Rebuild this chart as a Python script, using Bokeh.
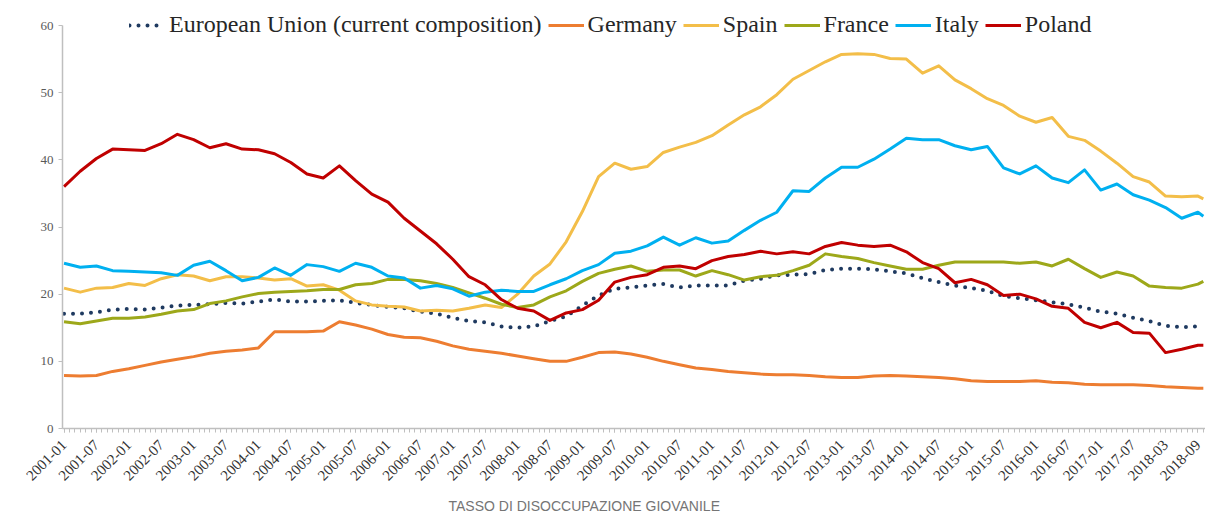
import math
from bokeh.plotting import figure
from bokeh.models import Range1d, FixedTicker, Legend, LegendItem, Title
from bokeh.embed import file_html
from bokeh.resources import INLINE

# ---- categories (monthly axis; 2018-01/02 absent in source) ----
months = []
for yr in range(2001, 2018):
    for mo in range(1, 13):
        months.append(f"{yr}-{mo:02d}")
for mo in range(3, 11):
    months.append(f"2018-{mo:02d}")

# sampled months (quarterly readings from the picture)
sample_months = [months[i] for i in range(0, 211, 3)] + ["2018-10"]

tick_positions = list(range(0, 211, 6))
tick_labels = [months[i] for i in tick_positions]

series_names = ["European Union (current composition)", "Germany", "Spain",
                "France", "Italy", "Poland"]

eu = [17.1, 17.1, 17.3, 17.7, 17.8, 17.7, 18.0, 18.3, 18.4, 18.5,
      18.7, 18.6, 18.9, 19.2, 18.9, 18.9, 19.0, 19.1, 18.7, 18.4,
      18.1, 17.9, 17.4, 17.1, 16.5, 16.0, 15.8, 15.2, 15.0, 15.2,
      16.0, 16.7, 18.3, 19.8, 20.8, 21.0, 21.3, 21.5, 21.0, 21.3,
      21.3, 21.3, 22.0, 22.3, 22.8, 22.9, 23.0, 23.6, 23.8, 23.8,
      23.7, 23.4, 23.1, 22.4, 21.8, 21.3, 20.9, 20.5, 19.7, 19.4,
      19.1, 18.8, 18.5, 18.0, 17.4, 17.1, 16.5, 16.0, 15.3, 15.1,
      15.2, 15.2]

germany = [7.9, 7.8, 7.9, 8.5, 8.9, 9.4, 9.9, 10.3, 10.7, 11.2,
           11.5, 11.7, 12.0, 14.4, 14.4, 14.4, 14.5, 15.9, 15.4, 14.8,
           14.0, 13.6, 13.5, 13.0, 12.3, 11.8, 11.5, 11.2, 10.8, 10.4,
           10.0, 10.0, 10.6, 11.3, 11.4, 11.1, 10.6, 10.0, 9.5, 9.0,
           8.8, 8.5, 8.3, 8.1, 8.0, 8.0, 7.9, 7.7, 7.6, 7.6,
           7.8, 7.9, 7.8, 7.7, 7.6, 7.4, 7.1, 7.0, 7.0, 7.0,
           7.1, 6.9, 6.8, 6.6, 6.5, 6.5, 6.5, 6.4, 6.2, 6.1,
           6.0, 6.0]

spain = [20.9, 20.3, 20.9, 21.0, 21.6, 21.3, 22.3, 22.9, 22.7, 22.0,
         22.6, 22.6, 22.4, 22.1, 22.3, 21.2, 21.4, 20.6, 19.0, 18.4,
         18.2, 18.1, 17.5, 17.6, 17.5, 17.9, 18.4, 18.0, 20.0, 22.7,
         24.5, 27.8, 32.3, 37.5, 39.5, 38.6, 39.0, 41.1, 41.9, 42.6,
         43.6, 45.2, 46.7, 47.9, 49.7, 52.0, 53.3, 54.6, 55.7, 55.8,
         55.7, 55.1, 55.0, 52.9, 54.0, 51.9, 50.6, 49.1, 48.1, 46.5,
         45.6, 46.3, 43.5, 42.9, 41.3, 39.5, 37.5, 36.7, 34.6, 34.5,
         34.6, 34.2]

france = [15.9, 15.6, 16.0, 16.4, 16.4, 16.6, 17.0, 17.5, 17.7, 18.6,
          19.0, 19.6, 20.1, 20.3, 20.4, 20.5, 20.7, 20.7, 21.4, 21.6,
          22.2, 22.2, 22.0, 21.6, 21.0, 20.2, 19.4, 18.5, 18.0, 18.4,
          19.6, 20.5, 21.9, 23.1, 23.7, 24.2, 23.4, 23.6, 23.6, 22.7,
          23.5, 22.9, 22.1, 22.6, 22.8, 23.5, 24.3, 26.0, 25.6, 25.3,
          24.7, 24.2, 23.7, 23.7, 24.3, 24.8, 24.8, 24.8, 24.8, 24.6,
          24.8, 24.2, 25.2, 23.8, 22.5, 23.3, 22.7, 21.2, 21.0, 20.9,
          21.5, 21.9]

italy = [24.6, 24.0, 24.2, 23.5, 23.4, 23.3, 23.2, 22.8, 24.3, 24.9,
         23.5, 22.0, 22.5, 23.9, 22.8, 24.4, 24.1, 23.4, 24.6, 24.0,
         22.7, 22.4, 20.9, 21.3, 20.8, 19.7, 20.3, 20.6, 20.4, 20.4,
         21.4, 22.3, 23.5, 24.4, 26.1, 26.4, 27.2, 28.5, 27.3, 28.4,
         27.6, 27.9, 29.5, 31.0, 32.2, 35.4, 35.3, 37.3, 38.9, 38.9,
         40.1, 41.6, 43.2, 43.0, 43.0, 42.1, 41.5, 42.0, 38.8, 37.9,
         39.1, 37.3, 36.6, 38.5, 35.5, 36.4, 34.8, 34.0, 32.9, 31.3,
         32.2, 31.6]

poland = [36.0, 38.3, 40.2, 41.6, 41.5, 41.4, 42.4, 43.8, 43.0, 41.8,
          42.4, 41.6, 41.5, 40.9, 39.6, 37.9, 37.3, 39.1, 36.9, 34.9,
          33.7, 31.3, 29.4, 27.5, 25.2, 22.6, 21.4, 19.2, 17.9, 17.5,
          16.1, 17.2, 17.7, 19.1, 21.8, 22.5, 22.9, 24.0, 24.2, 23.8,
          25.0, 25.6, 25.9, 26.4, 26.0, 26.3, 26.0, 27.1, 27.7, 27.3,
          27.1, 27.3, 26.3, 24.7, 23.8, 21.7, 22.2, 21.4, 19.8, 20.0,
          19.3, 18.2, 17.9, 15.8, 15.0, 15.8, 14.3, 14.2, 11.3, 11.8,
          12.4, 12.4]

y_ticks = [0, 10, 20, 30, 40, 50, 60]
title_text = "TASSO  DI DISOCCUPAZIONE GIOVANILE"

# ---- figure ----
xs = [months.index(m) for m in sample_months]

# frame extends a little above 60 so the legend row sits inside it
p = figure(width=1205, height=521, output_backend="svg", toolbar_location=None,
           x_range=Range1d(-0.28, 211.4), y_range=Range1d(0, 62.98),
           min_border_left=62, min_border_right=0, min_border_top=5,
           min_border_bottom=93)
p.outline_line_color = None
p.xgrid.visible = False
p.ygrid.visible = False

axis_col = "#BFBFBF"
for ax in (p.xaxis, p.yaxis):
    ax.axis_line_color = axis_col
    ax.axis_line_width = 1.5
    ax.major_tick_line_color = axis_col
    ax.minor_tick_line_color = axis_col
    ax.major_tick_in = 0
    ax.minor_tick_in = 0

p.xaxis.ticker = FixedTicker(ticks=tick_positions, minor_ticks=list(range(0, 212)))
p.xaxis.major_label_overrides = {t: lab for t, lab in zip(tick_positions, tick_labels)}
p.xaxis.major_label_orientation = math.pi / 4
p.xaxis.major_tick_out = 4
p.xaxis.minor_tick_out = 4
p.xaxis.major_label_standoff = 10
p.xaxis.major_label_text_font = "Liberation Serif"
p.xaxis.major_label_text_font_size = "15px"
p.xaxis.major_label_text_color = "#333333"

p.yaxis.bounds = (0, 60)
p.yaxis.ticker = FixedTicker(ticks=y_ticks, minor_ticks=[])
p.yaxis.major_tick_out = 4
p.yaxis.minor_tick_out = 0
p.yaxis.major_label_standoff = 5
p.yaxis.major_label_text_font = "Liberation Serif"
p.yaxis.major_label_text_font_size = "13px"
p.yaxis.major_label_text_color = "#595959"

colors = ["#1F3A60", "#ED7D31", "#F3BE49", "#9DA81A", "#00B0F0", "#C00000"]
data = [eu, germany, spain, france, italy, poland]

renderers = []
for name, vals, col in zip(series_names, data, colors):
    if name.startswith("European"):
        r = p.line(xs, vals, line_color=col, line_width=4, line_dash="0 9",
                   line_cap="round", line_join="round")
    else:
        r = p.line(xs, vals, line_color=col, line_width=3, line_join="round")
    renderers.append(r)

legend = Legend(items=[LegendItem(label=n, renderers=[r]) for n, r in zip(series_names, renderers)],
                orientation="horizontal", location=(67, 390),
                glyph_width=36, glyph_height=20, label_standoff=4, spacing=6,
                padding=0, margin=0, border_line_color=None, background_fill_alpha=0,
                label_text_font="Liberation Serif", label_text_font_size="24px",
                label_text_color="#262626")
p.add_layout(legend)

title = Title(text=title_text, align="left", offset=386, standoff=16,
              text_font="Liberation Sans", text_font_size="14px",
              text_font_style="normal", text_color="#757575")
p.add_layout(title, "below")

open("out.html", "w").write(file_html(p, INLINE))
